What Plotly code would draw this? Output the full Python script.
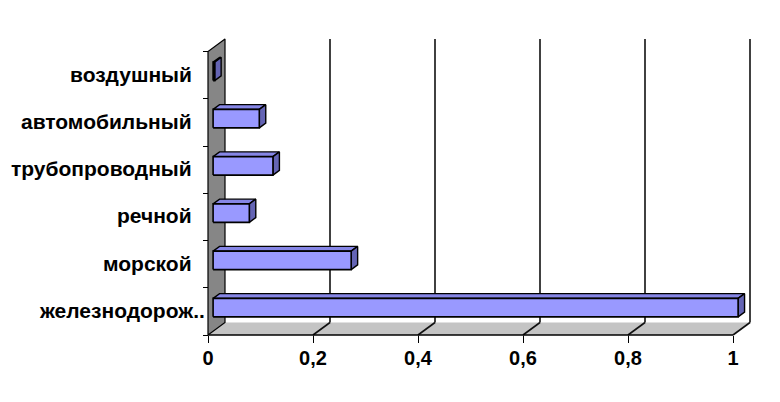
import plotly.graph_objects as go

# ---- data ----
categories = ["железнодорож..", "морской", "речной", "трубопроводный", "автомобильный", "воздушный"]
values = [1.0, 0.263, 0.069, 0.114, 0.088, 0.003]
x_ticks = [0, 0.2, 0.4, 0.6, 0.8, 1.0]
x_tick_labels = ["0", "0,2", "0,4", "0,6", "0,8", "1"]

# ---- geometry ----
OFF = 8                      # page body margin
W, HGT = 780 - OFF, 402 - OFF
PXX = 525.0                  # px per x unit
PXY = 47.25                  # px per category
X0 = 208 - OFF               # x pixel of value 0 (front plane)
YB = 335 - OFF               # y pixel of front floor edge
L, R, T, B = X0 - 8, 760 - OFF, 28 - OFF, YB + 3
DX = 17 / PXX                # depth offset
DY = 12.5 / PXY
F1, F2 = 0.30, 0.68          # bar depth start/end fraction
H = 0.39                     # bar thickness (category units)
FONT = "Liberation Sans, Arial, sans-serif"

x_range = [-(X0 - L) / PXX, (R - X0) / PXX]
y_range = [-0.5 - (B - YB) / PXY, -0.5 + (YB - T) / PXY]

n = len(categories)
y_lo, y_hi = -0.5, n - 0.5

fig = go.Figure()

# floor
fig.add_trace(go.Scatter(
    x=[0, 1, 1 + DX, DX, 0], y=[y_lo, y_lo, y_lo + DY, y_lo + DY, y_lo],
    fill="toself", fillcolor="#c4c4c4", line=dict(width=0), mode="lines",
    hoverinfo="skip", showlegend=False))

# back-wall gridlines and floor diagonals
gx, gy = [], []
for v in x_ticks[1:]:
    gx += [v + DX, v + DX, None, v, v + DX, None]
    gy += [y_lo + DY, y_hi + DY, None, y_lo, y_lo + DY, None]
fig.add_trace(go.Scatter(x=gx, y=gy, mode="lines", line=dict(color="#111", width=1.6),
                         hoverinfo="skip", showlegend=False))

# left wall
fig.add_trace(go.Scatter(
    x=[0, 0, DX, DX, 0], y=[y_lo, y_hi, y_hi + DY, y_lo + DY, y_lo],
    fill="toself", fillcolor="#868686", line=dict(color="#000", width=1.2), mode="lines",
    hoverinfo="skip", showlegend=False))

# front axis line
fig.add_trace(go.Scatter(x=[0, 1], y=[y_lo, y_lo], mode="lines",
                         line=dict(color="#000", width=1.6), hoverinfo="skip", showlegend=False))

# bars (3D boxes)
for i in range(n - 1, -1, -1):
    v = values[i]
    c = i
    b0, t0 = c - H / 2, c + H / 2
    x1, y1 = F1 * DX, F1 * DY
    x2, y2 = F2 * DX, F2 * DY
    fig.add_trace(go.Scatter(
        x=[x1, v + x1, v + x2, x2, x1], y=[t0 + y1, t0 + y1, t0 + y2, t0 + y2, t0 + y1],
        fill="toself", fillcolor="#8686E6", line=dict(color="#000", width=1.4),
        mode="lines", hoverinfo="skip", showlegend=False))
    fig.add_trace(go.Scatter(
        x=[v + x1, v + x2, v + x2, v + x1, v + x1], y=[b0 + y1, b0 + y2, t0 + y2, t0 + y1, b0 + y1],
        fill="toself", fillcolor="#6464B4", line=dict(color="#000", width=1.4),
        mode="lines", hoverinfo="skip", showlegend=False))
    fig.add_trace(go.Scatter(
        x=[x1, v + x1, v + x1, x1, x1], y=[b0 + y1, b0 + y1, t0 + y1, t0 + y1, b0 + y1],
        fill="toself", fillcolor="#9999FF", line=dict(color="#000", width=1.6),
        mode="lines", hoverinfo="skip", showlegend=False))

# category labels
for i, name in enumerate(categories):
    fig.add_annotation(x=0, y=i, xref="x", yref="y", text=name, showarrow=False,
                       xanchor="right", yanchor="middle",
                       xshift=-1 if name.endswith("..") else -14, yshift=1,
                       font=dict(family=FONT, size=21, color="#000", weight="bold"))

fig.update_layout(
    width=W, height=HGT,
    margin=dict(l=L, r=W - R, t=T, b=HGT - B, pad=0),
    paper_bgcolor="white", plot_bgcolor="white",
    separators=",.",
    xaxis=dict(range=x_range, tickvals=x_ticks, ticktext=x_tick_labels,
               showgrid=False, zeroline=False, showline=False,
               ticks="outside", ticklen=7, tickcolor="#000", tickwidth=1.3,
               anchor="free", position=(B - YB) / (B - T),
               ticklabelstandoff=-2,
               tickfont=dict(family=FONT, size=20, color="#000", weight="bold")),
    yaxis=dict(range=y_range, showgrid=False, zeroline=False, showline=False,
               tickvals=[], ticks="",
               anchor="free", position=(X0 - L) / (R - L),
               minor=dict(tickvals=[k - 0.5 for k in range(n + 1)], ticks="outside",
                          ticklen=5, tickcolor="#000", tickwidth=1.3, showgrid=False)),
)

fig.write_html("out.html")
